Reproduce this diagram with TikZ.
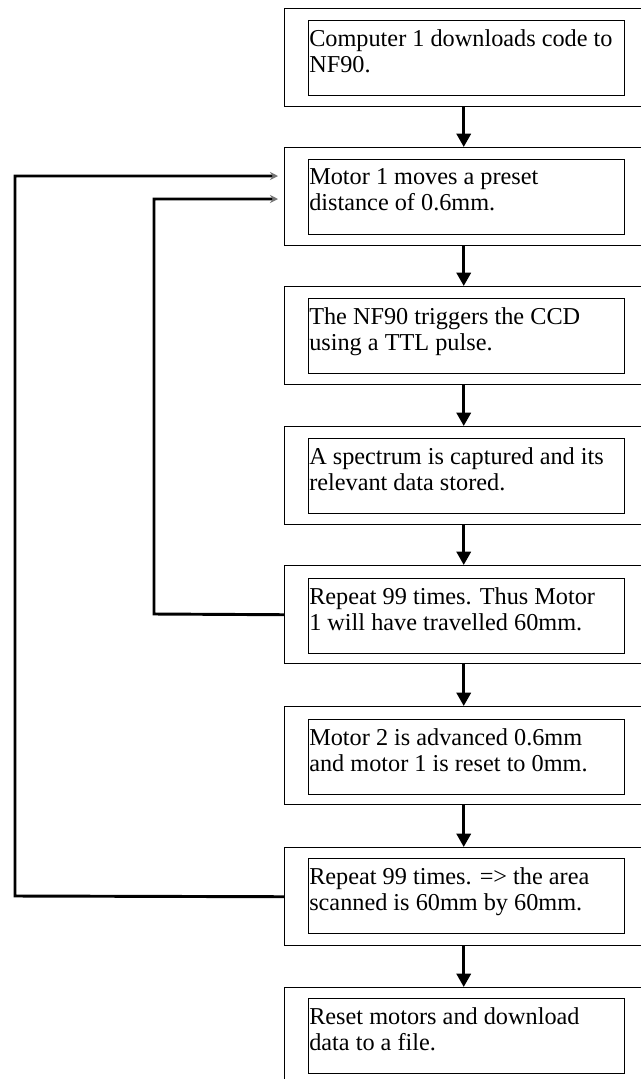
\documentclass[tikz,border=0pt]{standalone}
\usepackage{fontspec}
\setmainfont{Liberation Serif}
\usetikzlibrary{arrows.meta}
\begin{document}
\begin{tikzpicture}[x=0.75pt,y=-0.75pt,
  outerbox/.style={draw, line width=1.1pt, minimum width=278pt, minimum height=73.5pt, anchor=north west, inner sep=0pt},
  innerbox/.style={draw, line width=1.1pt, minimum width=237pt, minimum height=56.25pt, anchor=north west, inner sep=0pt},
  steptext/.style={anchor=north west, align=left, inner sep=0pt, font=\fontsize{18.2}{19.8}\selectfont},
  flow/.style={line width=2.4pt, -{Triangle[length=10pt,width=10.5pt]}},
  loopline/.style={line width=2.2pt, -{Stealth[length=6pt,width=6pt,color=black!55]}}]
\useasboundingbox (0,0) rectangle (641,1079);
\fill[white] (0,0) rectangle (641,1079);
% outer boxes
\node[outerbox] (o1) at (284,8) {};
\node[outerbox] (o2) at (284,147) {};
\node[outerbox] (o3) at (284,286) {};
\node[outerbox] (o4) at (284,426) {};
\node[outerbox] (o5) at (284,565) {};
\node[outerbox] (o6) at (284,706) {};
\node[outerbox] (o7) at (284,847) {};
\node[outerbox] (o8) at (284,987) {};
% inner boxes
\node[innerbox] (n1) at (308,20) {};
\node[innerbox] (n2) at (308,159) {};
\node[innerbox] (n3) at (308,298) {};
\node[innerbox] (n4) at (308,438) {};
\node[innerbox] (n5) at (308,578) {};
\node[innerbox] (n6) at (308,719) {};
\node[innerbox] (n7) at (308,858) {};
\node[innerbox] (n8) at (308,998) {};
% texts
\node[steptext] (t1) at (309,29) {Computer 1 downloads code to\\NF90.};
\node[steptext] (t2) at (309,168) {Motor 1 moves a preset\\distance of 0.6mm.};
\node[steptext] (t3) at (309,307) {The NF90 triggers the CCD\\using a TTL pulse.};
\node[steptext] (t4) at (309,447) {A spectrum is captured and its\\relevant data stored.};
\node[steptext] (t5) at (309,587) {Repeat 99 times. Thus Motor\\1 will have travelled 60mm.};
\node[steptext] (t6) at (309,728) {Motor 2 is advanced 0.6mm\\and motor 1 is reset to 0mm.};
\node[steptext] (t7) at (309,867) {Repeat 99 times. => the area\\scanned is 60mm by 60mm.};
\node[steptext] (t8) at (309,1007) {Reset motors and download\\data to a file.};
% flow arrows
\foreach \a/\b in {1/2,2/3,3/4,4/5,5/6,6/7,7/8}{
  \draw[flow] ([xshift=-2.25pt]o\a.south -| n\a.center) -- ([xshift=-2.25pt]o\b.north -| n\a.center);
}
% loop-back connectors
\coordinate (in1) at (278,199);
\coordinate (in2) at (278,176);
\draw[loopline] (o5.west) -- (154,614) |- (in1);
\draw[loopline] (o7.west) -- (15,896) |- (in2);
\end{tikzpicture}
\end{document}
